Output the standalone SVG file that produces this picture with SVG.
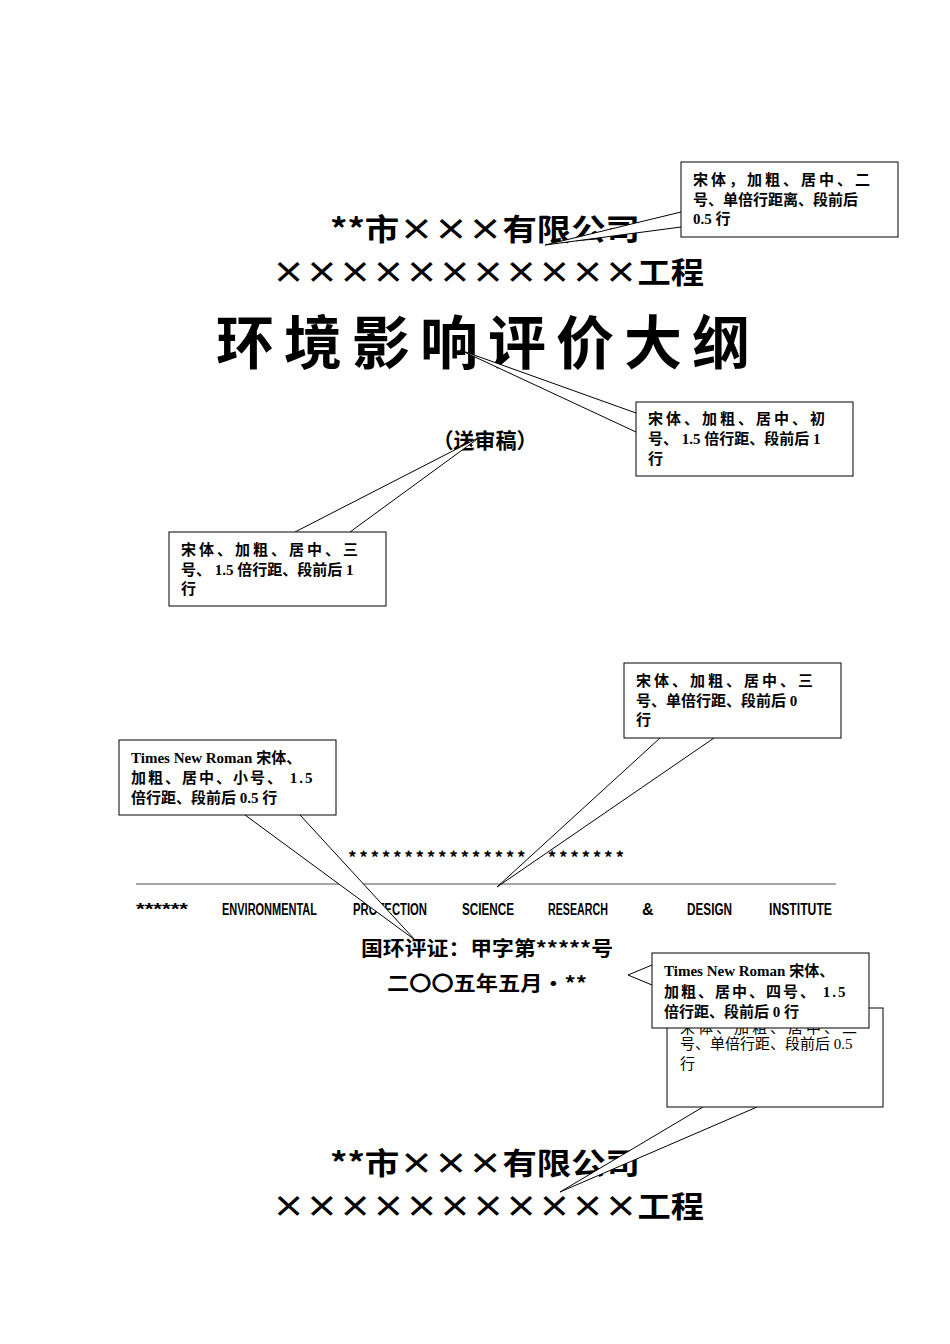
<svg xmlns="http://www.w3.org/2000/svg" width="950" height="1344" viewBox="0 0 950 1344">
<style>
.t{font-family:"Noto Sans CJK SC",serif;font-weight:bold;fill:#000;text-anchor:middle}
.c{font-family:"Liberation Serif","Noto Sans CJK SC",serif;font-weight:bold;font-size:15px;fill:#000}
.cn{font-family:"Liberation Serif","Noto Sans CJK SC",serif;font-size:15px;fill:#000}
.b{fill:#fff;stroke:#000;stroke-width:1}
.e{font-family:"Liberation Sans Narrow","Liberation Sans",sans-serif;font-weight:bold;font-size:16px}
</style>
<rect width="950" height="1344" fill="#fff"/>
<g id="titles">
<text class="t" x="485" y="240" font-size="30" textLength="310" lengthAdjust="spacingAndGlyphs">**市×××有限公司</text>
<text class="t" x="488" y="283" font-size="30" textLength="432" lengthAdjust="spacingAndGlyphs">×××××××××××工程</text>
<text class="t" x="488" y="364" font-size="58" letter-spacing="10">环境影响评价大纲</text>
<text class="t" x="485" y="448" font-size="21">（送审稿）</text>
<text class="t" x="486" y="864" font-size="17" font-family="Liberation Mono" textLength="276">****************·*******</text>
<line x1="136" y1="884" x2="836" y2="884" stroke="#888" stroke-width="1.5"/>
<g class="e">
<text x="136" y="915" textLength="52" lengthAdjust="spacingAndGlyphs">******</text>
<text x="222" y="915" textLength="95" lengthAdjust="spacingAndGlyphs">ENVIRONMENTAL</text>
<text x="353" y="915" textLength="74" lengthAdjust="spacingAndGlyphs">PROTECTION</text>
<text x="462" y="915" textLength="52" lengthAdjust="spacingAndGlyphs">SCIENCE</text>
<text x="548" y="915" textLength="60" lengthAdjust="spacingAndGlyphs">RESEARCH</text>
<text x="642" y="915">&amp;</text>
<text x="687" y="915" textLength="45" lengthAdjust="spacingAndGlyphs">DESIGN</text>
<text x="769" y="915" textLength="63" lengthAdjust="spacingAndGlyphs">INSTITUTE</text>
</g>
<text class="t" x="487" y="956" font-size="20" textLength="252" lengthAdjust="spacingAndGlyphs">国环评证：甲字第*****号</text>
<text class="t" x="487" y="991" font-size="20" textLength="200" lengthAdjust="spacingAndGlyphs">二〇〇五年五月·**</text>
<text class="t" x="485" y="1174" font-size="30" textLength="310" lengthAdjust="spacingAndGlyphs">**市×××有限公司</text>
<text class="t" x="488" y="1217" font-size="30" textLength="432" lengthAdjust="spacingAndGlyphs">×××××××××××工程</text>
</g>
<g id="connectors">
<path class="b" d="M681,212 L545,245 L681,227"/>
<path class="b" d="M636,413 L460,350 L636,432"/>
<path class="b" d="M295,532 L480,437 L350,532"/>
<path class="b" d="M660,738 L497,887 L714,738"/>
<path class="b" d="M245,815 L415,940 L300,815"/>
<path class="b" d="M703,1107 L560,1192 L757,1107"/>
<path class="b" d="M652,965 L628,975 L652,985"/>
</g>
<g id="n1"><rect class="b" x="681" y="162" width="217" height="75"/>
<text class="c" x="693" y="185" letter-spacing="3">宋体，加粗、居中、二</text>
<text class="c" x="693" y="205">号、单倍行距离、段前后</text>
<text class="c" x="693" y="224">0.5 行</text></g>
<g id="n2"><rect class="b" x="636" y="402" width="217" height="74"/>
<text class="c" x="648" y="424" letter-spacing="3">宋体、加粗、居中、初</text>
<text class="c" x="648" y="444">号、 1.5 倍行距、段前后 1</text>
<text class="c" x="648" y="464">行</text></g>
<g id="n3"><rect class="b" x="169" y="532" width="217" height="74"/>
<text class="c" x="181" y="555" letter-spacing="3">宋体、加粗、居中、三</text>
<text class="c" x="181" y="575">号、 1.5 倍行距、段前后 1</text>
<text class="c" x="181" y="594">行</text></g>
<g id="n4"><rect class="b" x="624" y="663" width="217" height="75"/>
<text class="c" x="636" y="686" letter-spacing="3">宋体、加粗、居中、三</text>
<text class="c" x="636" y="706">号、单倍行距、段前后 0</text>
<text class="c" x="636" y="725">行</text></g>
<g id="n5"><rect class="b" x="119" y="740" width="217" height="75"/>
<text class="c" x="131" y="763">Times New Roman  宋体、</text>
<text class="c" x="131" y="783" letter-spacing="2">加粗、居中、小号、 1.5</text>
<text class="c" x="131" y="803">倍行距、段前后 0.5 行</text></g>
<g id="n7"><rect class="b" x="667" y="1008" width="216" height="99"/>
<text class="cn" x="680" y="1033" letter-spacing="3">宋体、加粗、居中、二</text>
<text class="cn" x="680" y="1049">号、单倍行距、段前后 0.5</text>
<text class="cn" x="680" y="1069">行</text></g>
<g id="n6"><rect class="b" x="652" y="953" width="217" height="75"/>
<text class="c" x="664" y="976">Times New Roman  宋体、</text>
<text class="c" x="664" y="997" letter-spacing="2">加粗、居中、四号、 1.5</text>
<text class="c" x="664" y="1017">倍行距、段前后 0 行</text></g>
</svg>
